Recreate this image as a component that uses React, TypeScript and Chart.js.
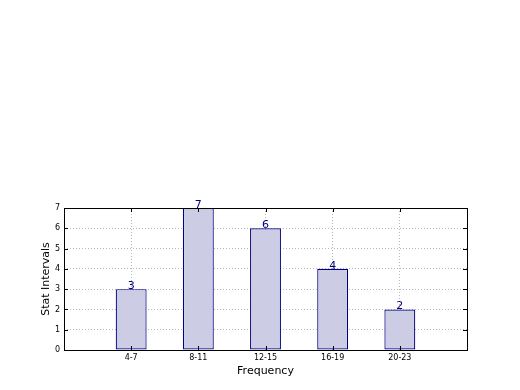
import React, { useEffect, useRef } from "react";
import { Chart, registerables } from "chart.js";

Chart.register(...registerables);

const categories = ["", "4-7", "8-11", "12-15", "16-19", "20-23", ""];
const counts = [null, 3, 7, 6, 4, 2, null];
const yTicksMax = 7;
const xTitle = "Frequency";
const yTitle = "Stat Intervals";

const FONT = "'DejaVu Sans', sans-serif";

const framePlugin = {
  id: "frame",
  afterDatasetsDraw(chart: any) {
    const { ctx } = chart;
    ctx.save();
    const meta = chart.getDatasetMeta(0);
    ctx.fillStyle = "#000080";
    ctx.font = `11px ${FONT}`;
    ctx.textAlign = "center";
    ctx.textBaseline = "alphabetic";
    meta.data.forEach((el: any, i: number) => {
      const v = counts[i];
      if (v === null || v === undefined) return;
      ctx.fillText(String(v), el.x, el.y);
    });
    ctx.restore();
  },
  afterDraw(chart: any) {
    const { ctx, chartArea, scales } = chart;
    const { left, right, top, bottom } = chartArea;
    ctx.save();
    ctx.strokeStyle = "#000";
    ctx.lineWidth = 1;
    ctx.strokeRect(Math.round(left) + 0.5, Math.round(top) + 0.5, Math.round(right - left), Math.round(bottom - top));
    const len = 4;
    ctx.beginPath();
    for (let v = 0; v <= yTicksMax; v++) {
      const y = Math.round(scales.y.getPixelForValue(v)) + 0.5;
      ctx.moveTo(left, y);
      ctx.lineTo(left + len, y);
      ctx.moveTo(right, y);
      ctx.lineTo(right - len, y);
    }
    for (let i = 1; i < categories.length - 1; i++) {
      const x = Math.round(scales.x.getPixelForValue(i)) + 0.5;
      ctx.moveTo(x, bottom);
      ctx.lineTo(x, bottom - len);
      ctx.moveTo(x, top);
      ctx.lineTo(x, top + len);
    }
    ctx.stroke();
    ctx.restore();
  },
};

export default function App() {
  const ref = useRef<HTMLCanvasElement | null>(null);
  useEffect(() => {
    if (!ref.current) return;
    const chart = new Chart(ref.current, {
      type: "bar",
      data: {
        labels: categories,
        datasets: [
          {
            data: counts as any,
            backgroundColor: "#ccccE5",
            borderColor: "#000080",
            borderWidth: 1.2,
            borderSkipped: false,
            categoryPercentage: 1,
            barPercentage: 0.46,
          },
        ],
      },
      options: {
        responsive: false,
        animation: false,
        layout: { padding: { left: 36, top: 208, right: 53, bottom: 0 } },
        plugins: { legend: { display: false }, tooltip: { enabled: false } },
        scales: {
          x: {
            type: "category",
            offset: false,
            z: 1,
            afterFit: (s: any) => {
              s.height = 40;
            },
            grid: {
              display: true,
              offset: false,
              color: "rgba(0,0,0,0.28)",
              drawTicks: false,
            },
            border: { display: false, dash: [1, 2] },
            ticks: {
              color: "#000",
              font: { family: FONT, size: 8 },
              padding: 3,
              maxRotation: 0,
              autoSkip: false,
            },
            title: {
              display: true,
              text: xTitle,
              color: "#000",
              font: { family: FONT, size: 11 },
              padding: { top: 0, bottom: 12 },
            },
          },
          y: {
            min: 0,
            max: yTicksMax,
            z: 1,
            afterFit: (s: any) => {
              s.width = 28;
            },
            grid: {
              display: true,
              color: "rgba(0,0,0,0.28)",
              drawTicks: false,
            },
            border: { display: false, dash: [1, 2] },
            ticks: {
              stepSize: 1,
              color: "#000",
              font: { family: FONT, size: 8 },
              padding: 4,
            },
            title: {
              display: true,
              text: yTitle,
              color: "#000",
              font: { family: FONT, size: 11 },
              padding: { top: 4, bottom: 0 },
            },
          },
        },
      },
      plugins: [framePlugin],
    });
    return () => chart.destroy();
  }, []);
  return (
    <div style={{ position: "absolute", left: 0, top: 0, width: 520, height: 390, background: "#fff" }}>
      <canvas ref={ref} width={520} height={390} />
    </div>
  );
}
